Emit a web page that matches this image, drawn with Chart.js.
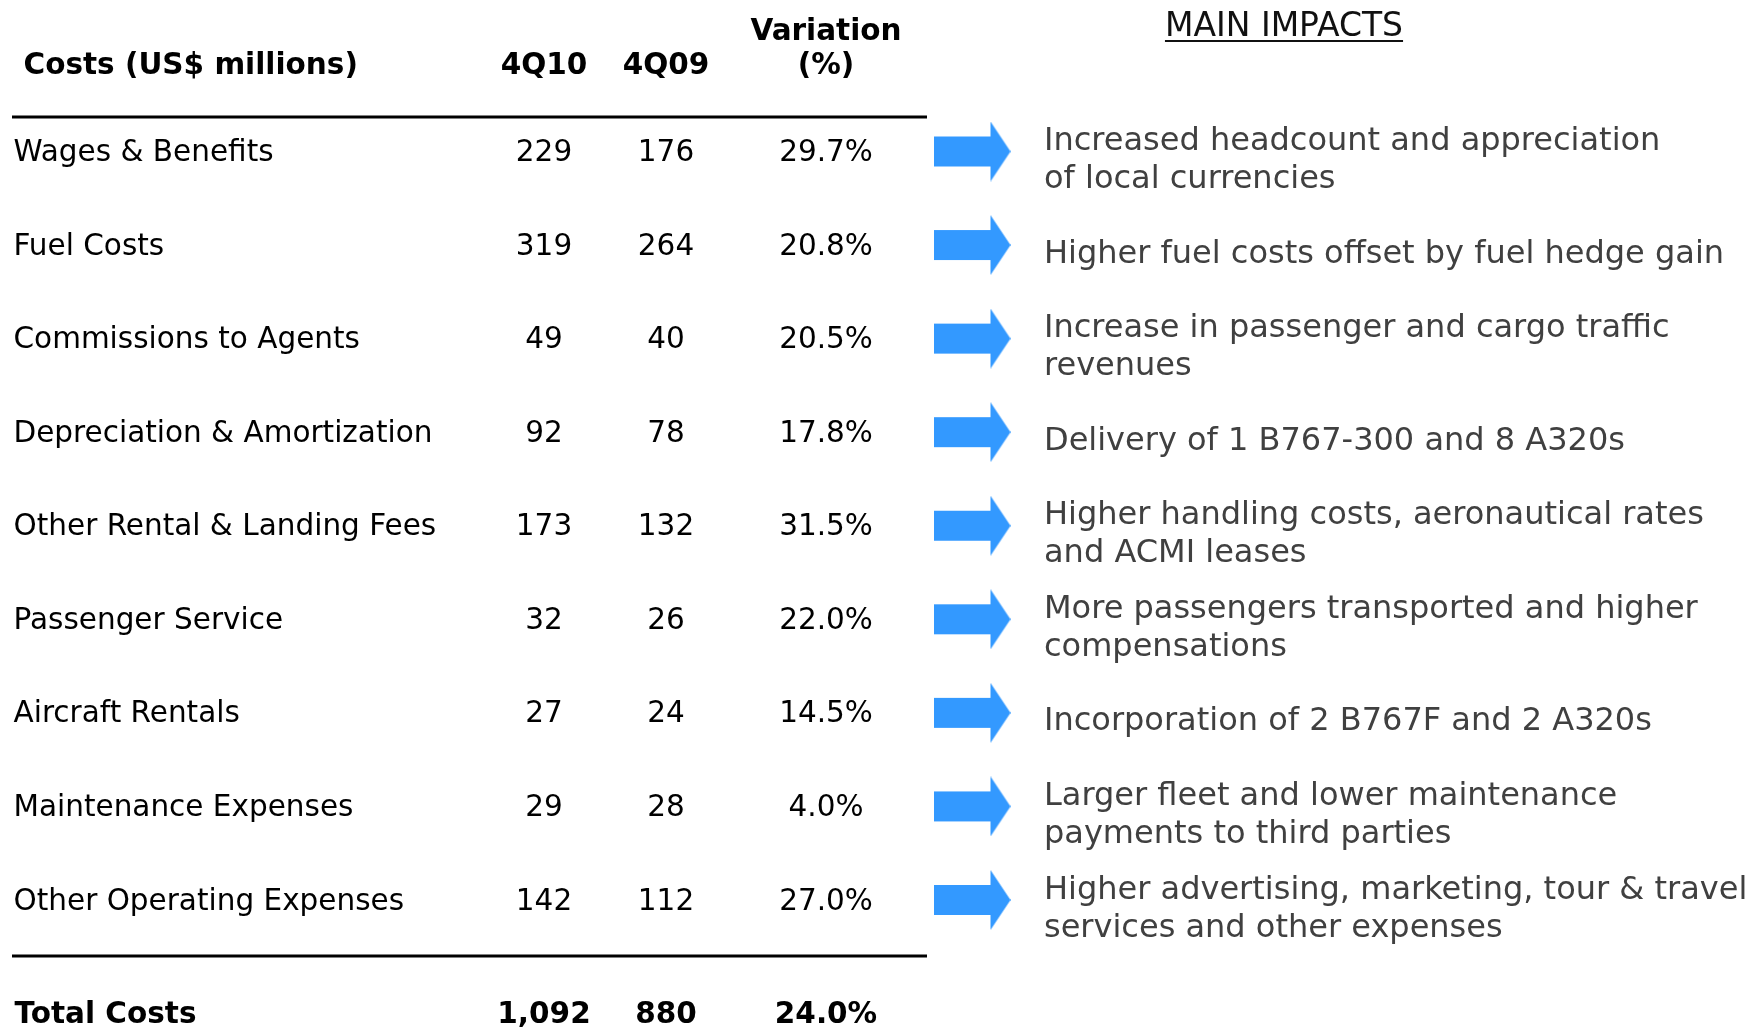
<!DOCTYPE html>
<html><head><meta charset="utf-8">
<script src="https://cdn.jsdelivr.net/npm/chart.js@4.4.1/dist/chart.umd.min.js"></script>
<style>html,body{margin:0;padding:0;background:#fff;overflow:hidden}canvas{display:block}</style>
</head><body>
<canvas id="c" width="1754" height="1028"></canvas>
<script>
// ---- data ----
const categories = ["Wages & Benefits","Fuel Costs","Commissions to Agents","Depreciation & Amortization","Other Rental & Landing Fees","Passenger Service","Aircraft Rentals","Maintenance Expenses","Other Operating Expenses"];
const costs4Q10 = [229,319,49,92,173,32,27,29,142];
const costs4Q09 = [176,264,40,78,132,26,24,28,112];
const variationPct = [29.7,20.8,20.5,17.8,31.5,22.0,14.5,4.0,27.0];
const impacts = [
  ["Increased headcount and appreciation","of local currencies"],
  ["Higher fuel costs offset by fuel hedge gain"],
  ["Increase in passenger and cargo traffic","revenues"],
  ["Delivery of 1 B767-300 and 8 A320s"],
  ["Higher handling costs, aeronautical rates","and ACMI leases"],
  ["More passengers transported and higher","compensations"],
  ["Incorporation of 2 B767F and 2 A320s"],
  ["Larger fleet and lower maintenance","payments to third parties"],
  ["Higher advertising, marketing, tour & travel","services and other expenses"]
];
const headerLabels = ["Costs (US$ millions)","4Q10","4Q09"];
const variationHeader = ["Variation","(%)"];
const impactsTitle = "MAIN IMPACTS";
const totalLabel = "Total Costs";
const totalValues = [1092, 880, 24.0];

// ---- layout ----
const W = 1754, H = 1028;
const FONT = '"DejaVu Sans", Verdana, sans-serif';
const COL = {label: 13.5, header: 23.5, total: 14.5, q10: 544, q09: 666, varc: 826, arrow: 972, impact: 1044, title: 1284, ruleL: 12, ruleR: 927};
const ARROW_COLOR = '#3399FF';

function makeArrow() {
  const c = document.createElement('canvas');
  const w = 77, h = 60;
  c.width = w; c.height = h;
  const g = c.getContext('2d');
  g.fillStyle = ARROW_COLOR;
  g.beginPath();
  g.moveTo(0, 15); g.lineTo(57, 15); g.lineTo(57, 0); g.lineTo(77, 30);
  g.lineTo(57, 60); g.lineTo(57, 45); g.lineTo(0, 45); g.closePath();
  g.fill();
  return c;
}
const arrowImg = makeArrow();

const fmt = n => n.toLocaleString('en-US');
const pct = v => v.toFixed(1) + '%';

const tablePlugin = {
  id: 'table',
  afterDatasetsDraw(chart) {
    const ctx = chart.ctx;
    const xs = chart.scales.x, ys = chart.scales.y;
    const X = v => xs.getPixelForValue(v);
    const firstY = ys.getPixelForValue(0);
    const lastY = ys.getPixelForValue(categories.length - 1);
    ctx.save();
    ctx.textBaseline = 'alphabetic';

    // header
    ctx.fillStyle = '#000';
    ctx.font = 'bold 29.5px ' + FONT;
    ctx.textAlign = 'left';
    ctx.fillText(headerLabels[0], X(COL.header), firstY - 77.5);
    ctx.textAlign = 'center';
    ctx.fillText(headerLabels[1], X(COL.q10), firstY - 77.5);
    ctx.fillText(headerLabels[2], X(COL.q09), firstY - 77.5);
    ctx.fillText(variationHeader[0], X(COL.varc), firstY - 111.5);
    ctx.fillText(variationHeader[1], X(COL.varc), firstY - 77.5);

    // main impacts title
    ctx.font = '33px ' + FONT;
    ctx.fillStyle = '#111';
    ctx.fillText(impactsTitle, X(COL.title), 36);
    const tw = ctx.measureText(impactsTitle).width;
    ctx.fillRect(X(COL.title) - tw / 2, 40, tw, 2);

    // rules
    ctx.fillStyle = '#000';
    ctx.fillRect(X(COL.ruleL), firstY - 36, X(COL.ruleR) - X(COL.ruleL), 3);
    ctx.fillRect(X(COL.ruleL), lastY + 54.5, X(COL.ruleR) - X(COL.ruleL), 3);

    // rows
    categories.forEach((cat, i) => {
      const y = ys.getPixelForValue(i);
      ctx.fillStyle = '#000';
      ctx.font = '29.5px ' + FONT;
      ctx.textAlign = 'left';
      ctx.fillText(cat, X(COL.label), y + 9.5);
      ctx.textAlign = 'center';
      ctx.fillText(fmt(costs4Q10[i]), X(COL.q10), y + 9.5);
      ctx.fillText(fmt(costs4Q09[i]), X(COL.q09), y + 9.5);
      ctx.fillText(pct(variationPct[i]), X(COL.varc), y + 9.5);
      // impacts
      ctx.fillStyle = '#404040';
      ctx.font = '32px ' + FONT;
      ctx.textAlign = 'left';
      const lines = impacts[i];
      const mid = y + 6;
      const step = 38;
      lines.forEach((ln, k) => {
        const cy = mid + (k - (lines.length - 1) / 2) * step;
        ctx.fillText(ln, X(COL.impact), cy + 11.5);
      });
    });

    // total row
    const ty = lastY + 123;
    ctx.fillStyle = '#000';
    ctx.font = 'bold 29.5px ' + FONT;
    ctx.textAlign = 'left';
    ctx.fillText(totalLabel, X(COL.total), ty);
    ctx.textAlign = 'center';
    ctx.fillText(fmt(totalValues[0]), X(COL.q10), ty);
    ctx.fillText(fmt(totalValues[1]), X(COL.q09), ty);
    ctx.fillText(pct(totalValues[2]), X(COL.varc), ty);
    ctx.restore();
  }
};

new Chart(document.getElementById('c'), {
  type: 'scatter',
  data: {
    datasets: [{
      label: 'impact arrows',
      data: categories.map(c => ({x: COL.arrow, y: c})),
      pointStyle: arrowImg,
      pointRadius: 30,
      clip: false
    }]
  },
  options: {
    responsive: false,
    animation: false,
    events: [],
    layout: {autoPadding: false, padding: {left: 0, right: 0, top: 151.5, bottom: H - 900}},
    scales: {
      x: {type: 'linear', min: 0, max: W, display: false},
      y: {type: 'category', labels: categories, offset: false, display: false}
    },
    plugins: {legend: {display: false}, tooltip: {enabled: false}}
  },
  plugins: [tablePlugin]
});
</script>
</body></html>
